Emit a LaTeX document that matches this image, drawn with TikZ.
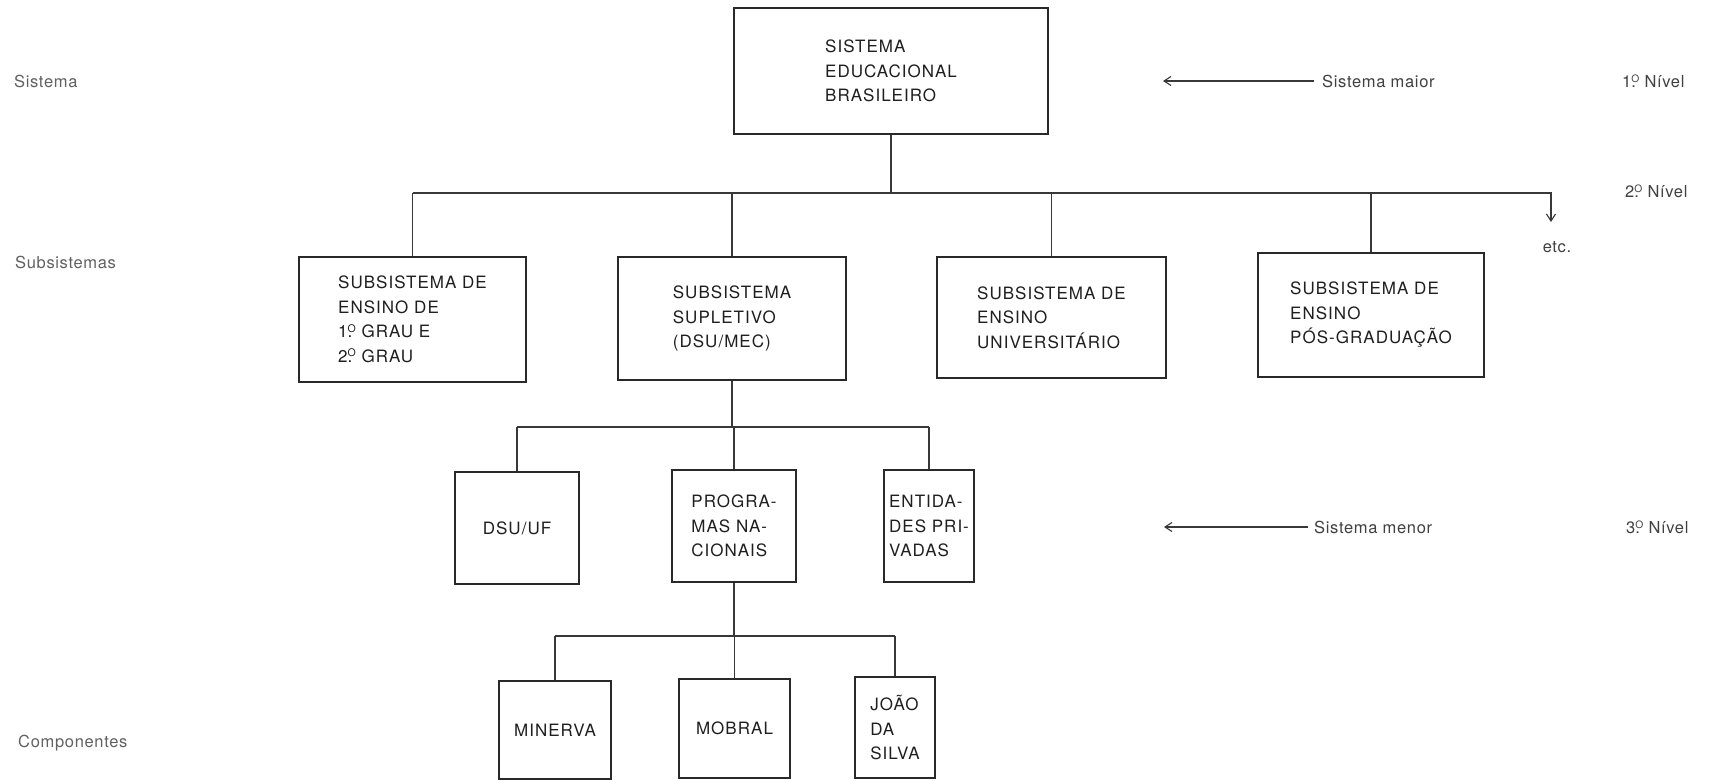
\documentclass[tikz,border=0pt]{standalone}
\usepackage{fontspec}
\usetikzlibrary{arrows.meta}
\newfontfamily\boxfont[LetterSpace=6]{TeX Gyre Heros}
\newfontfamily\labfont[LetterSpace=4]{TeX Gyre Heros}
\definecolor{txtc}{gray}{0.12}
\definecolor{boxc}{gray}{0.16}
\definecolor{linec}{gray}{0.22}
\definecolor{labc}{gray}{0.38}
\definecolor{rlabc}{gray}{0.25}
% ordinal mark: dot under a small raised O
\newcommand\ordmark{\rlap{.}\raisebox{0.62ex}{\scalebox{0.62}{O}}}
\tikzset{
  sz/.style 2 args={minimum width=#1pt, minimum height=#2pt},
  box/.style={draw=boxc, line width=2.2pt, inner sep=0pt, align=left,
    font=\boxfont\fontsize{17}{24.5}\selectfont, text=txtc},
  link/.style={draw=linec, line width=1.2pt},
  arr/.style={link, -{Straight Barb[length=7pt,width=9pt,line width=1.1pt]}},
  lab/.style={font=\labfont\fontsize{16.5}{18}\selectfont, text=labc,
    inner sep=0pt, anchor=west},
}
\begin{document}
\begin{tikzpicture}[x=1pt,y=-1pt]
\useasboundingbox[fill=white] (0,0) rectangle (1711,781);

% level 1
\node[box, sz={314}{126}] (top) at (891,71) {SISTEMA\\EDUCACIONAL\\BRASILEIRO};

% level 2
\node[box, sz={227}{125}] (b1) at (412.5,319.5)
  {SUBSISTEMA DE\\ENSINO DE\\1\ordmark\ GRAU E\\2\ordmark\ GRAU};
\node[box, sz={228}{123}] (b2) at (732,318.5)
  {SUBSISTEMA\\SUPLETIVO\\(DSU/MEC)};
\node[box, sz={229}{121}] (b3) at (1051.5,317.5)
  {SUBSISTEMA DE\\ENSINO\\UNIVERSITÁRIO};
\node[box, sz={226}{124}] (b4) at (1371,315)
  {SUBSISTEMA DE\\ENSINO\\PÓS-GRADUAÇÃO};

% level 3
\node[box, sz={124}{112}] (dsu) at (517,528) {DSU/UF};
\node[box, sz={124}{112}] (prog) at (734,526) {PROGRA-\\MAS NA-\\CIONAIS};
\node[box, sz={90}{112}] (ent) at (929,526) {ENTIDA-\\DES PRI-\\VADAS};

% components
\node[box, sz={112}{98}] (min) at (555,730) {MINERVA};
\node[box, sz={111}{99}] (mob) at (734.5,728.5) {MOBRAL};
\node[box, sz={80}{101}] (joao) at (895,727.5) {JOÃO\\DA\\SILVA};

% connectors, level 1 to 2
\coordinate (bus1) at (0,193);
\coordinate (etcend) at (1551,222);
\draw[link] (top.south) -- (top.south |- bus1);
\draw[arr] (b1.north |- bus1) -| (etcend);
\foreach \n in {b1,b2,b3,b4} \draw[link] (\n.north |- bus1) -- (\n.north);
\node[lab, anchor=center, text=rlabc] (etc) at (1557,247) {etc.};

% connectors, level 2 to 3
\coordinate (bus2) at (0,427);
\draw[link] (b2.south) -- (b2.south |- bus2);
\draw[link] (dsu.north |- bus2) -- (ent.north |- bus2);
\foreach \n in {dsu,prog,ent} \draw[link] (\n.north |- bus2) -- (\n.north);

% connectors, level 3 to components
\coordinate (bus3) at (0,636);
\draw[link] (prog.south) -- (prog.south |- bus3);
\draw[link] (min.north |- bus3) -- (joao.north |- bus3);
\foreach \n in {min,mob,joao} \draw[link] (\n.north |- bus3) -- (\n.north);

% row labels on the left
\node[lab] (sis) at (14,81) {Sistema};
\node[lab] (sub) at (15,262) {Subsistemas};
\node[lab] (comp) at (18,743) {Componentes};

% annotations on the right
\node[lab, text=rlabc, inner xsep=8pt] (maior) at (1314,81) {Sistema maior};
\coordinate (maiortip) at (1163,81);
\draw[arr] (maior.west) -- (maiortip);
\node[lab, text=rlabc, inner xsep=6pt] (menor) at (1308,527) {Sistema menor};
\coordinate (menortip) at (1164,527);
\draw[arr] (menor.west) -- (menortip);

\node[lab, text=rlabc] (n1) at (1622,81) {1\ordmark\ Nível};
\node[lab, text=rlabc] (n2) at (1625,191) {2\ordmark\ Nível};
\node[lab, text=rlabc] (n3) at (1626,527) {3\ordmark\ Nível};
\end{tikzpicture}
\end{document}
